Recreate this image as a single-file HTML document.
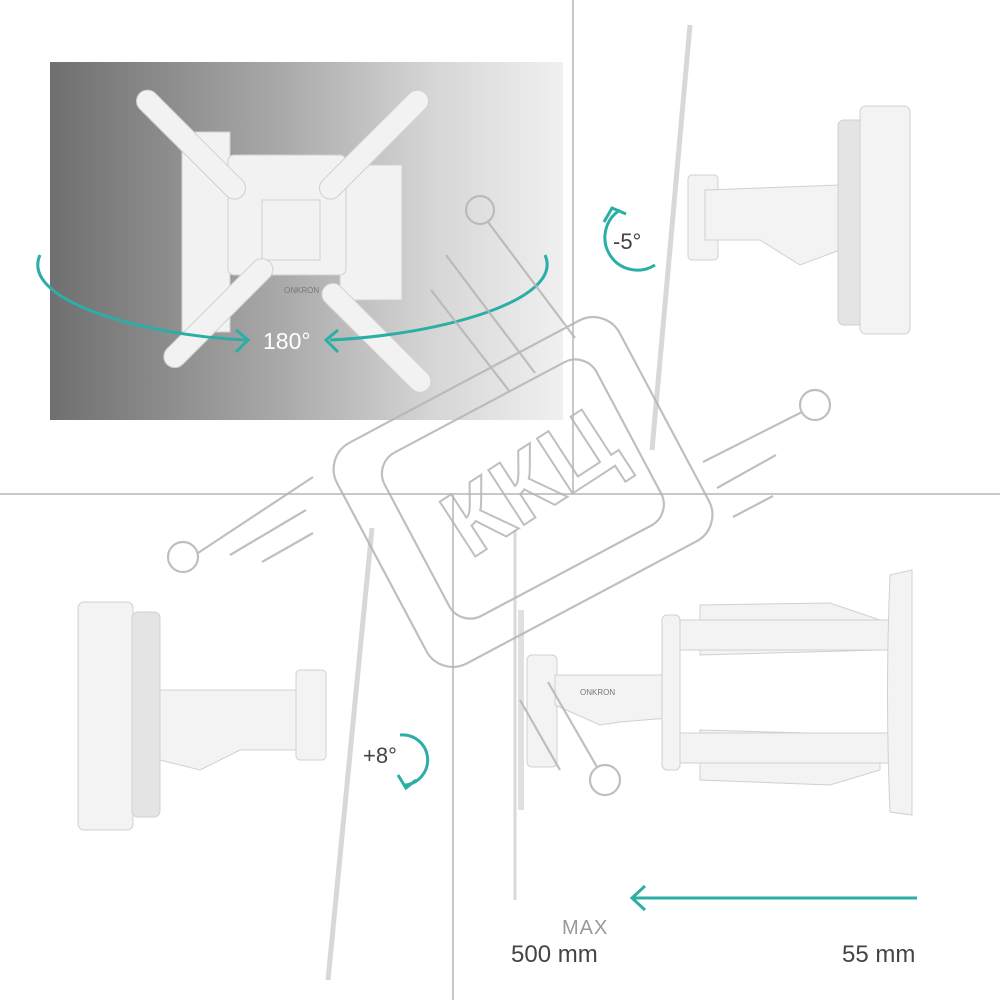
<!DOCTYPE html>
<html><head><meta charset="utf-8"><style>
html,body{margin:0;padding:0;background:#fff;}
svg{display:block;}
text{font-family:"Liberation Sans",sans-serif;}
</style></head><body>
<svg width="1000" height="1000" viewBox="0 0 1000 1000">
<defs>
<linearGradient id="g1" x1="0" x2="1" y1="0" y2="0">
<stop offset="0" stop-color="#6f6f6f"/><stop offset="0.45" stop-color="#a9a9a9"/><stop offset="0.75" stop-color="#d6d6d6"/><stop offset="1" stop-color="#f0f0f0"/>
</linearGradient>
</defs>
<line x1="0" y1="494" x2="1000" y2="494" stroke="#c8c8c8" stroke-width="2"/>
<line x1="573" y1="0" x2="573" y2="494" stroke="#c8c8c8" stroke-width="2"/>
<line x1="453" y1="494" x2="453" y2="1000" stroke="#c8c8c8" stroke-width="2"/>

<rect x="50" y="62" width="513" height="358" fill="url(#g1)"/>
<g fill="#f2f2f2" stroke="#d0d0d0" stroke-width="1">
<rect x="182" y="132" width="48" height="200"/>
<rect x="340" y="165" width="62" height="135"/>
<rect x="228" y="155" width="118" height="120" rx="6"/>
<rect x="262" y="200" width="58" height="60"/>
<g transform="rotate(45 185 140)"><rect x="120" y="128" width="145" height="22" rx="11"/></g>
<g transform="rotate(-45 380 140)"><rect x="300" y="128" width="145" height="22" rx="11"/></g>
<g transform="rotate(-45 230 300)"><rect x="140" y="290" width="145" height="22" rx="11"/></g>
<g transform="rotate(45 340 300)"><rect x="320" y="290" width="145" height="22" rx="11"/></g>
</g>
<text x="284" y="293" font-size="8" fill="#777">ONKRON</text>
<path d="M40 255 C 20 300, 140 335, 245 340" fill="none" stroke="#2aaea6" stroke-width="3"/>
<path d="M545 255 C 565 300, 440 335, 330 340" fill="none" stroke="#2aaea6" stroke-width="3"/>
<path d="M236 330 L248 340 L236 352" fill="none" stroke="#2aaea6" stroke-width="3"/>
<path d="M338 330 L326 340 L338 352" fill="none" stroke="#2aaea6" stroke-width="3"/>
<text x="263" y="349" font-size="23" fill="#fff">180°</text>

<line x1="690" y1="25" x2="652" y2="450" stroke="#d8d8d8" stroke-width="5"/>
<g fill="#f3f3f3" stroke="#d0d0d0">
<rect x="688" y="175" width="30" height="85" rx="4"/>
<path d="M705 190 L840 185 L840 250 L800 265 L760 240 L705 240Z"/>
<rect x="838" y="120" width="28" height="205" rx="6" fill="#e4e4e4"/>
<rect x="860" y="106" width="50" height="228" rx="6"/>
</g>
<path d="M620 210 A24 24 0 1 0 655 265" fill="none" stroke="#2aaea6" stroke-width="3"/>
<path d="M604 222 L612 208 L626 214" fill="none" stroke="#2aaea6" stroke-width="3"/>
<text x="613" y="249" font-size="22" fill="#444">-5°</text>

<line x1="372" y1="528" x2="328" y2="980" stroke="#d8d8d8" stroke-width="5"/>
<g fill="#f3f3f3" stroke="#d0d0d0">
<rect x="78" y="602" width="55" height="228" rx="6"/>
<rect x="132" y="612" width="28" height="205" rx="6" fill="#e4e4e4"/>
<path d="M160 690 L300 690 L300 750 L240 750 L200 770 L160 760Z"/>
<rect x="296" y="670" width="30" height="90" rx="4"/>
</g>
<path d="M400 735 A24 24 0 1 1 405 785" fill="none" stroke="#2aaea6" stroke-width="3"/>
<path d="M398 775 L406 788 L416 780" fill="none" stroke="#2aaea6" stroke-width="3"/>
<text x="363" y="763" font-size="22" fill="#444">+8°</text>

<line x1="515" y1="530" x2="515" y2="900" stroke="#d8d8d8" stroke-width="3"/>
<rect x="518" y="610" width="6" height="200" fill="#e0e0e0"/>
<g fill="#f3f3f3" stroke="#d0d0d0">
<rect x="527" y="655" width="30" height="112" rx="5"/>
<path d="M555 675 L668 675 L668 718 L620 722 L600 725 L555 705Z"/>
<rect x="662" y="615" width="18" height="155" rx="5"/>
<path d="M700 605 L830 603 L880 620 L880 650 L700 655Z"/>
<path d="M700 730 L880 735 L880 770 L830 785 L700 780Z"/>
<rect x="680" y="620" width="215" height="30"/>
<rect x="680" y="733" width="215" height="30"/>
<path d="M890 575 L912 570 L912 815 L890 812 Q885 695 890 575Z"/>
</g>
<text x="580" y="695" font-size="8" fill="#777">ONKRON</text>
<line x1="917" y1="898" x2="633" y2="898" stroke="#2aaea6" stroke-width="3"/>
<path d="M645 886 L632 898 L645 910" fill="none" stroke="#2aaea6" stroke-width="3"/>
<text x="562" y="934" font-size="20" fill="#999" letter-spacing="1">MAX</text>
<text x="511" y="962" font-size="24" fill="#444">500 mm</text>
<text x="842" y="962" font-size="24" fill="#444">55 mm</text>

<g fill="none" stroke="#b5b5b5" stroke-width="2.2" opacity="0.85">
<rect x="363" y="367" width="320" height="250" rx="30" transform="rotate(-28 523 492)"/>
<rect x="403" y="398" width="240" height="185" rx="24" transform="rotate(-28 520 490)"/>
<circle cx="480" cy="210" r="14"/><line x1="488" y1="222" x2="575" y2="338"/>
<line x1="446" y1="255" x2="535" y2="373"/><line x1="431" y1="290" x2="510" y2="392"/>
<circle cx="815" cy="405" r="15"/><line x1="802" y1="412" x2="703" y2="462"/>
<line x1="776" y1="455" x2="717" y2="488"/><line x1="773" y1="496" x2="733" y2="517"/>
<circle cx="183" cy="557" r="15"/><line x1="198" y1="553" x2="313" y2="477"/>
<line x1="306" y1="510" x2="230" y2="555"/><line x1="313" y1="533" x2="262" y2="562"/>
<circle cx="605" cy="780" r="15"/><line x1="597" y1="767" x2="548" y2="682"/>
<line x1="560" y1="770" x2="520" y2="700"/>
<text x="0" y="0" font-size="95" fill="none" stroke="#b5b5b5" stroke-width="2" font-weight="bold" transform="translate(470 560) rotate(-33)">ККЦ</text>
</g>
</svg>
</body></html>
